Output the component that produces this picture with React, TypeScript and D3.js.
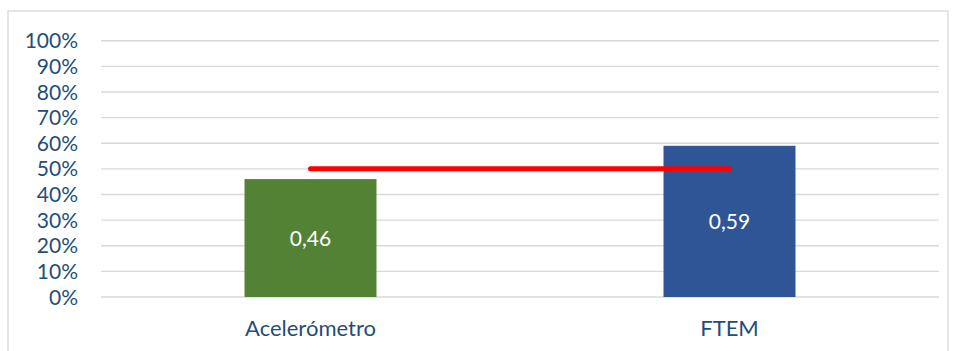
import React from "react";
import * as d3 from "d3";

const categories = ["Acelerómetro", "FTEM"];
const values = [0.46, 0.59];
const valueLabels = ["0,46", "0,59"];
const barColors = ["#548235", "#2F5597"];
const referenceValue = 0.5;
const yTicks = [0, 0.1, 0.2, 0.3, 0.4, 0.5, 0.6, 0.7, 0.8, 0.9, 1.0];

export default function App() {
  const W = 955, H = 351;
  const left = 101, right = 939, top = 40.7, bottom = 297;
  const x = d3.scaleBand<string>().domain(categories).range([left, right]).padding(0);
  const y = d3.scaleLinear().domain([0, 1]).range([bottom, top]);
  const barW = x.bandwidth() * 0.315;
  const fmt = d3.format(".0%");
  const font = "Lato, 'Open Sans', sans-serif";
  const textColor = "#1F4E79";
  const line = d3.line<[number, number]>()(
    categories.map((c) => [x(c)! + x.bandwidth() / 2, y(referenceValue)] as [number, number])
  );
  return (
    <svg width={W} height={H} style={{ position: "absolute", left: 0, top: 0, background: "#fff" }}>
      <rect x={8} y={11} width={940} height={360} fill="#fff" stroke="#D9D9D9" strokeWidth={1.3} />
      {yTicks.map((t) => (
        <g key={t}>
          <line x1={left} x2={right} y1={y(t)} y2={y(t)} stroke="#D9D9D9" strokeWidth={1.4} />
          <text x={78} y={y(t)} dy="0.36em" textAnchor="end" fontFamily={font} fontSize={21} fill={textColor}>
            {fmt(t)}
          </text>
        </g>
      ))}
      {categories.map((c, i) => {
        const cx = x(c)! + x.bandwidth() / 2;
        return (
          <g key={c}>
            <rect x={cx - barW / 2} y={y(values[i])} width={barW} height={y(0) - y(values[i])} fill={barColors[i]} />
            <text x={cx} y={(y(values[i]) + y(0)) / 2} dy="0.36em" textAnchor="middle" fontFamily={font} fontSize={21} fill="#fff">
              {valueLabels[i]}
            </text>
            <text x={cx} y={336} textAnchor="middle" fontFamily={font} fontSize={22} fill={textColor}>
              {c}
            </text>
          </g>
        );
      })}
      <path d={line!} stroke="#FF0000" strokeWidth={5} strokeLinecap="round" fill="none" />
    </svg>
  );
}
